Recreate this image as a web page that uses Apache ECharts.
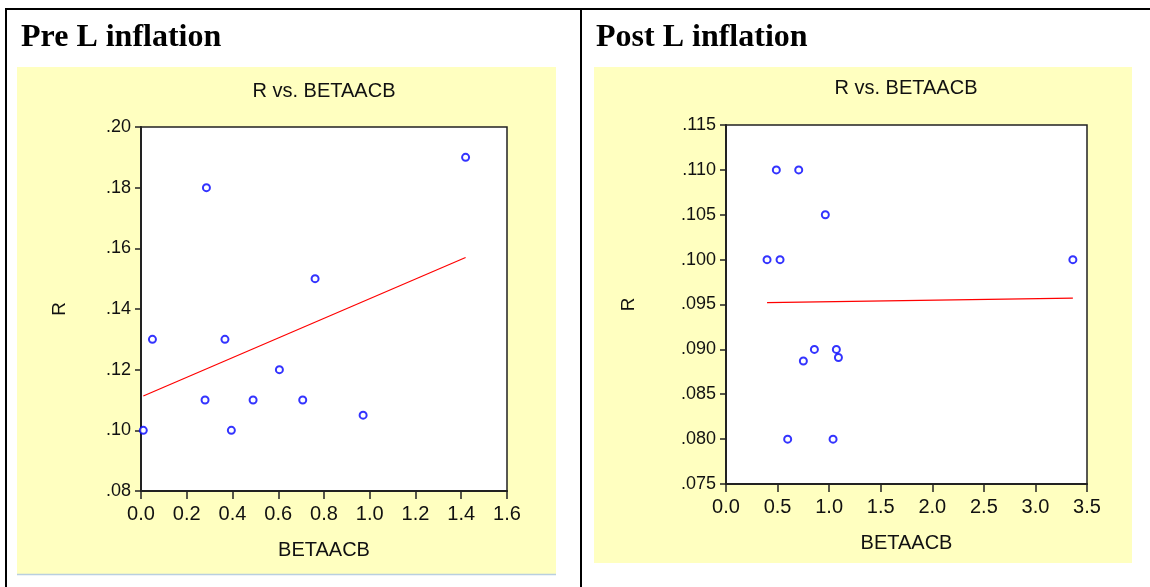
<!DOCTYPE html>
<html><head><meta charset="utf-8">
<script src="https://cdn.jsdelivr.net/npm/echarts@6/dist/echarts.min.js"></script>
<style>html,body{margin:0;padding:0;background:#fff}#c{width:1150px;height:587px}</style>
</head><body><div id="c"></div>
<script>
// ---- data ----
const panelTitles = ['Pre L inflation', 'Post L inflation'];
const chartTitle = 'R vs. BETAACB';
const xName = 'BETAACB';
const yName = 'R';

const preX = [0.01, 0.05, 0.28, 0.286, 0.367, 0.395, 0.49, 0.605, 0.707, 0.761, 0.971, 1.419];
const preY = [0.100, 0.130, 0.110, 0.180, 0.130, 0.100, 0.110, 0.120, 0.110, 0.150, 0.105, 0.190];
const preFitX = [0.01, 1.419];
const preFitY = [0.1113, 0.1570];

const postX = [0.398, 0.488, 0.524, 0.705, 0.963, 3.363, 0.598, 0.750, 0.857, 1.038, 1.070, 1.090];
const postY = [0.100, 0.110, 0.100, 0.110, 0.105, 0.100, 0.080, 0.0887, 0.090, 0.080, 0.090, 0.0891];
const postFitX = [0.398, 3.363];
const postFitY = [0.0952, 0.0957];

const preXAxis = [0, 1.6, 0.2];     // min, max, interval
const preYAxis = [0.08, 0.20, 0.02];
const postXAxis = [0, 3.5, 0.5];
const postYAxis = [0.075, 0.115, 0.005];

// ---- chart ----
const zip = (a, b) => a.map((v, i) => [v, b[i]]);
const SANS = '"Liberation Sans", Arial, sans-serif';
const txt = '#111';
const yellow = '#ffffc0';
const blue = '#0000ff';

function xAxisOf(idx, ax) {
  return {
    gridIndex: idx, type: 'value', min: ax[0], max: ax[1], interval: ax[2],
    name: xName, nameLocation: 'middle', nameGap: 49,
    nameTextStyle: { fontFamily: SANS, fontSize: 20, color: txt },
    axisLine: { show: true, onZero: false, lineStyle: { color: '#222', width: 2 } },
    axisTick: { show: true, inside: false, length: 8, lineStyle: { color: '#222', width: 1.5 } },
    axisLabel: { fontFamily: SANS, fontSize: 20, color: txt, margin: 13,
      formatter: v => v.toFixed(1) },
    splitLine: { show: false }
  };
}
function yAxisOf(idx, ax, dec, gap) {
  return {
    gridIndex: idx, type: 'value', min: ax[0], max: ax[1], interval: ax[2],
    name: yName, nameLocation: 'middle', nameGap: gap,
    nameTextStyle: { fontFamily: SANS, fontSize: 19, color: txt },
    axisLine: { show: true, onZero: false, lineStyle: { color: '#222', width: 2 } },
    axisTick: { show: true, inside: false, length: 6, lineStyle: { color: '#222', width: 1.5 } },
    axisLabel: { fontFamily: SANS, fontSize: 18, color: txt, margin: 10,
      formatter: v => v.toFixed(dec).replace(/^0/, '') },
    splitLine: { show: false }
  };
}

const chart = echarts.init(document.getElementById('c'), null, { renderer: 'canvas' });
chart.setOption({
  animation: false,
  backgroundColor: '#fff',
  graphic: [
    { type: 'rect', z: -10, shape: { x: 17, y: 67, width: 539, height: 507 }, style: { fill: yellow } },
    { type: 'line', z: -9, shape: { x1: 17, y1: 574.5, x2: 556, y2: 574.5 }, style: { stroke: '#b9cfe0', lineWidth: 1.5 } },
    { type: 'rect', z: -10, shape: { x: 594, y: 67, width: 538, height: 496 }, style: { fill: yellow } },
    { type: 'line', shape: { x1: 5, y1: 9, x2: 1150, y2: 9 }, style: { stroke: '#000', lineWidth: 2 } },
    { type: 'line', shape: { x1: 6, y1: 8, x2: 6, y2: 587 }, style: { stroke: '#000', lineWidth: 2 } },
    { type: 'line', shape: { x1: 581, y1: 8, x2: 581, y2: 587 }, style: { stroke: '#000', lineWidth: 2 } },
    { type: 'text', x: 21, y: 38, style: { text: panelTitles[0], fill: '#000', verticalAlign: 'middle',
      font: 'bold 32px "Liberation Serif", "Times New Roman", serif' } },
    { type: 'text', x: 596, y: 38, style: { text: panelTitles[1], fill: '#000', verticalAlign: 'middle',
      font: 'bold 32px "Liberation Serif", "Times New Roman", serif' } },
    { type: 'text', x: 324, y: 91, style: { text: chartTitle, fill: txt, align: 'center', verticalAlign: 'middle',
      font: '20px ' + SANS } },
    { type: 'text', x: 906, y: 88, style: { text: chartTitle, fill: txt, align: 'center', verticalAlign: 'middle',
      font: '20px ' + SANS } }
  ],
  grid: [
    { left: 141, top: 127, width: 366, height: 364, show: true, backgroundColor: '#fff', borderColor: '#222', borderWidth: 1.5 },
    { left: 726, top: 125, width: 361, height: 359, show: true, backgroundColor: '#fff', borderColor: '#222', borderWidth: 1.5 }
  ],
  xAxis: [xAxisOf(0, preXAxis), xAxisOf(1, postXAxis)],
  yAxis: [yAxisOf(0, preYAxis, 2, 72), yAxisOf(1, postYAxis, 3, 88)],
  series: [
    { type: 'line', xAxisIndex: 0, yAxisIndex: 0, data: zip(preFitX, preFitY), showSymbol: false,
      lineStyle: { color: '#ff0000', width: 1.2 }, z: 2 },
    { type: 'scatter', xAxisIndex: 0, yAxisIndex: 0, data: zip(preX, preY), symbol: 'emptyCircle', symbolSize: 7,
      itemStyle: { color: blue, borderColor: blue, borderWidth: 1.5 }, z: 3 },
    { type: 'line', xAxisIndex: 1, yAxisIndex: 1, data: zip(postFitX, postFitY), showSymbol: false,
      lineStyle: { color: '#ff0000', width: 1.2 }, z: 2 },
    { type: 'scatter', xAxisIndex: 1, yAxisIndex: 1, data: zip(postX, postY), symbol: 'emptyCircle', symbolSize: 7,
      itemStyle: { color: blue, borderColor: blue, borderWidth: 1.5 }, z: 3 }
  ]
});
</script></body></html>
